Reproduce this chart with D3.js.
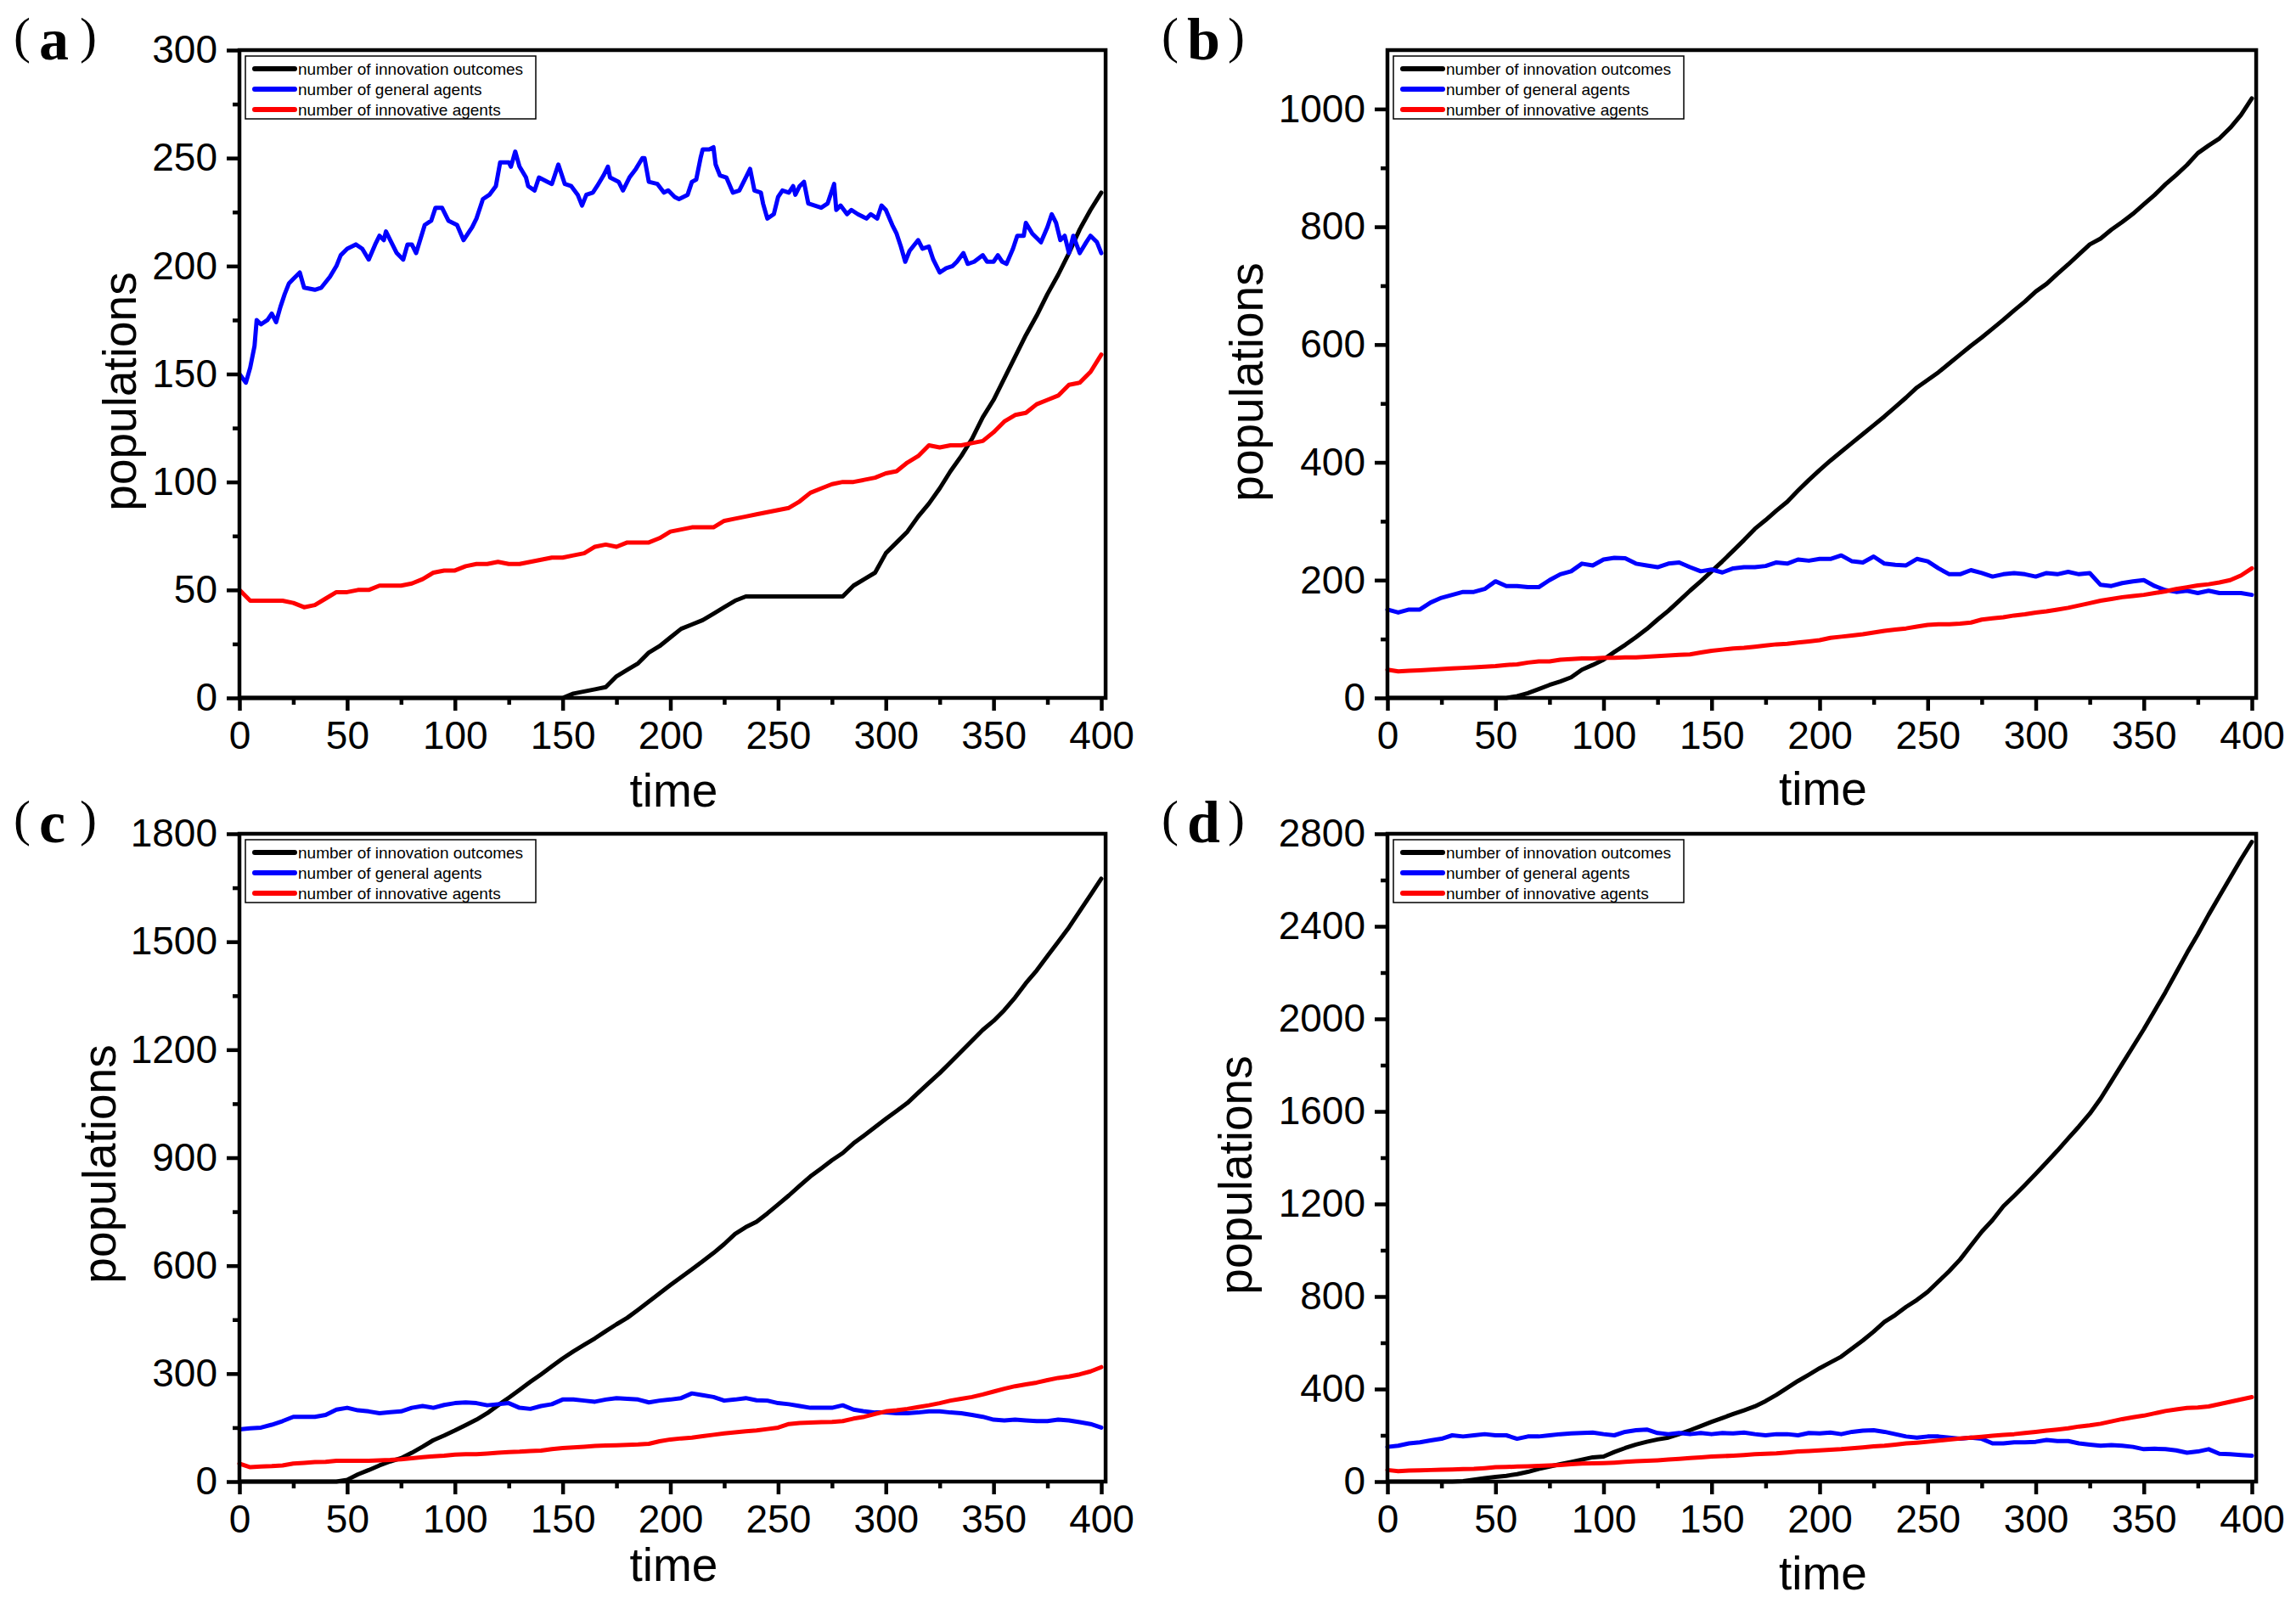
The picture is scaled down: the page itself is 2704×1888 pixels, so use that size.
<!DOCTYPE html>
<html><head><meta charset="utf-8">
<script src="https://cdn.jsdelivr.net/npm/d3@7"></script>
<style>html,body{margin:0;padding:0;background:#fff}</style>
</head><body><svg id="chart" width="2704" height="1888"></svg>
<script>
// ---------- DATA ----------
const time = [0,5,10,15,20,25,30,35,40,45,50,55,60,65,70,75,80,85,90,95,100,105,110,115,120,125,130,135,140,145,150,155,160,165,170,175,180,185,190,195,200,205,210,215,220,225,230,235,240,245,250,255,260,265,270,275,280,285,290,295,300,305,310,315,320,325,330,335,340,345,350,355,360,365,370,375,380,385,390,395,400];

// panel (a)
const outcomesA = [0,0,0,0,0,0,0,0,0,0, 0,0,0,0,0,0,0,0,0,0, 0,0,0,0,0,0,0,0,0,0,
  0,2,3,4,5,10,13,16,21,24, 28,32,34,36,39,42,45,47,47,47, 47,47,47,47,47,47,47,52,55,58,
  67,72,77,84,90,97,105,112,120,130, 138,148,158,168,177,187,196,206,217,226, 234];
// general agents in (a) read at a finer, irregular time step
const generalATime = [0,3,5,7,8,10,13,15,17,19,21,23,25,28,30,35,38,42,45,47,50,54,57,60,63,65,67,68,70,73,76,78,80,82,86,89,91,94,97,101,104,108,110,113,116,119,121,125,126,128,130,133,134,137,139,143,145,148,151,154,157,159,161,164,166,169,171,172,176,178,181,184,187,188,190,194,197,199,202,204,208,210,212,214,215,218,220,221,223,226,229,232,235,237,239,242,243,245,248,250,252,255,257,258,260,262,264,267,270,273,276,277,279,282,284,287,291,293,296,298,300,303,305,307,309,311,315,317,320,322,325,328,331,333,336,338,341,345,347,350,352,354,356,359,361,364,365,368,370,372,375,377,379,381,383,385,387,390,393,395,398,400];
const generalA = [150,146,153,163,175,173,175,178,174,181,187,192,194,197,190,189,190,195,200,205,208,210,208,203,210,214,212,216,212,206,203,210,210,206,219,221,227,227,221,219,212,218,222,231,233,237,248,248,246,253,246,241,237,235,241,239,238,247,238,237,233,228,233,234,237,242,246,241,239,235,241,245,250,250,239,238,234,235,232,231,233,239,240,250,254,254,255,247,242,241,234,235,241,245,235,234,229,222,224,232,235,234,237,233,237,239,229,228,227,229,238,226,228,224,226,224,222,224,222,228,226,219,215,209,202,207,212,208,209,203,197,199,200,202,206,201,202,205,202,202,205,202,201,208,214,214,220,215,213,211,218,224,220,212,214,206,214,206,211,214,211,206];
const innovativeA = [50,45,45,45,45,44,42,43,46,49, 49,50,50,52,52,52,53,55,58,59,
  59,61,62,62,63,62,62,63,64,65, 65,66,67,70,71,70,72,72,72,74,
  77,78,79,79,79,82,83,84,85,86, 87,88,91,95,97,99,100,100,101,102,
  104,105,109,112,117,116,117,117,118,119, 123,128,131,132,136,138,140,145,146,151, 159];

// panel (b)
const outcomesB = [0,0,0,0,0,0,0,0,0,0, 0,0,3,8,15,22,28,35,48,56,
  65,78,90,103,117,133,148,165,182,198, 215,232,250,268,287,302,318,333,352,370,
  387,403,418,433,448,463,478,494,510,527, 540,553,568,583,598,612,627,642,658,673,
  690,703,720,736,753,770,780,795,808,822, 838,854,872,888,905,925,938,950,968,990, 1018];
const generalB = [150,145,150,150,162,170,175,180,180,185, 198,190,190,188,188,200,210,215,228,225,
  235,238,237,228,225,222,228,230,222,215, 218,213,220,222,222,224,230,228,235,233,
  236,236,242,232,230,240,228,226,225,236, 232,220,210,210,217,212,206,210,212,210,
  206,212,210,214,210,212,192,190,195,198, 200,190,183,180,182,178,182,178,178,178, 175];
const innovativeB = [48,45,46,47,48,49,50,51,52,53, 54,56,57,60,62,62,65,66,67,67,
  68,68,69,69,70,71,72,73,74,77, 80,82,84,85,87,89,91,92,94,96,
  98,102,104,106,108,111,114,116,118,121, 124,125,125,126,128,133,135,137,140,142,
  145,147,150,153,157,161,165,168,171,173, 175,178,181,185,188,191,193,196,200,208, 220];

// panel (c)
const outcomesC = [0,0,0,0,0,0,0,0,0,0, 5,20,32,45,56,65,80,97,115,128,
  142,157,172,190,212,233,255,277,298,320, 342,362,380,398,418,437,455,477,500,523,
  546,568,590,612,635,660,688,707,722,745, 770,795,822,848,870,893,913,940,962,985,
  1008,1030,1052,1080,1108,1135,1165,1195,1225,1255, 1280,1310,1345,1385,1420,1460,1500,1540,1585,1630, 1675];
const generalC = [145,148,150,158,168,180,180,180,185,200, 205,198,195,190,193,195,205,210,205,213,
  218,220,218,212,215,218,205,202,210,215, 228,228,225,222,228,232,230,228,220,225,
  228,232,245,240,235,225,228,232,226,225, 218,215,210,205,205,205,212,200,195,192,
  192,190,190,192,195,195,192,190,185,180, 172,170,172,170,168,168,172,170,165,160, 150];
const innovativeC = [50,40,42,43,45,50,52,54,55,58, 58,58,58,59,60,62,65,68,70,72,
  75,76,76,78,80,82,83,85,86,90, 93,95,97,99,100,101,102,103,105,112,
  117,120,122,126,130,134,137,140,142,146, 150,160,163,164,165,166,168,175,180,188,
  195,198,202,207,212,218,225,230,235,242, 250,258,265,270,275,282,288,292,298,306, 318];

// panel (d)
const outcomesD = [0,0,0,0,0,0,0,2,8,15, 20,25,32,42,55,65,75,85,95,105,
  108,128,145,160,172,182,190,205,222,240, 258,275,292,308,325,348,375,405,435,462,
  490,515,540,575,610,648,690,720,755,785, 820,865,910,960,1020,1080,1130,1190,1235,1282,
  1330,1380,1430,1483,1535,1590,1655,1730,1805,1880, 1955,2035,2115,2200,2285,2365,2450,2530,2610,2690, 2765];
const generalD = [150,155,165,170,178,185,200,195,200,205, 200,200,185,195,195,200,205,208,210,212,
  205,200,215,222,225,210,205,210,205,210, 205,210,208,212,205,200,205,205,200,210,
  208,212,205,215,220,222,215,205,195,190, 195,195,190,185,190,185,165,165,170,170,
  172,180,175,175,165,160,155,158,155,150, 140,142,140,135,125,130,140,120,118,115, 112];
const innovativeD = [50,45,48,49,50,51,52,54,55,58, 62,63,65,66,68,70,72,75,78,79,
  80,82,85,88,90,92,95,98,102,105, 108,110,112,115,118,120,122,126,130,132,
  135,138,140,144,148,152,155,160,165,168, 172,177,182,186,190,194,198,202,205,210,
  215,220,225,230,238,243,250,260,270,278, 285,295,305,312,318,320,325,335,345,355, 365];

const seriesNames = ["number of innovation outcomes", "number of general agents", "number of innovative agents"];
const seriesColors = ["#000000", "#0000ff", "#ff0000"];
const panelLetters = ["a", "b", "c", "d"];
const yMaxes = [300, 1100, 1800, 2800];
const yMajorTicks = [
  [0,50,100,150,200,250,300],
  [0,200,400,600,800,1000],
  [0,300,600,900,1200,1500,1800],
  [0,400,800,1200,1600,2000,2400,2800]];
const yMinorTicks = [
  [25,75,125,175,225,275],
  [100,300,500,700,900],
  [150,450,750,1050,1350,1650],
  [200,600,1000,1400,1800,2200,2600]];
const xMajorTicks = [0,50,100,150,200,250,300,350,400];
const xMinorTicks = [25,75,125,175,225,275,325,375];
const xTitle = "time", yTitle = "populations";

// ---------- LAYOUT ----------
const layout = [
  {x0:282,  x400:1297, top:59,  bottom:822,  titleY:950,  popX:160,  popY:461,  lab:{x:16,   y:70}},
  {x0:1634, x400:2652, top:59,  bottom:822,  titleY:948,  popX:1487, popY:450,  lab:{x:1368, y:70}},
  {x0:282,  x400:1297, top:982, bottom:1745, titleY:1862, popX:136,  popY:1371, lab:{x:16,   y:992}},
  {x0:1634, x400:2652, top:982, bottom:1745, titleY:1872, popX:1474, popY:1384, lab:{x:1368, y:992}}
];
const seriesData = [
  [[time, outcomesA], [generalATime, generalA], [time, innovativeA]],
  [[time, outcomesB], [time, generalB], [time, innovativeB]],
  [[time, outcomesC], [time, generalC], [time, innovativeC]],
  [[time, outcomesD], [time, generalD], [time, innovativeD]]];

const svg = d3.select("#chart");
svg.append("rect").attr("width",2704).attr("height",1888).attr("fill","#fff");
const FONT = "'Liberation Sans', Arial, sans-serif";

layout.forEach((L, i) => {
  const pxPerUnit = (L.x400 - L.x0) / 400;
  const xMaxDom = 402;
  const x = d3.scaleLinear().domain([0, xMaxDom]).range([L.x0, L.x0 + xMaxDom * pxPerUnit]);
  const y = d3.scaleLinear().domain([0, yMaxes[i]]).range([L.bottom, L.top]);
  const g = svg.append("g");

  // data lines
  seriesData[i].forEach(([ts, vals], s) => {
    const line = d3.line().x((d, k) => x(ts[k])).y(d => y(d)).curve(d3.curveLinear);
    g.append("path").datum(vals).attr("d", line)
      .attr("fill", "none").attr("stroke", seriesColors[s])
      .attr("stroke-width", 5).attr("stroke-linejoin", "round").attr("stroke-linecap", "round");
  });

  // frame
  g.append("rect").attr("x", x(0)).attr("y", y(yMaxes[i]))
    .attr("width", x(xMaxDom) - x(0)).attr("height", y(0) - y(yMaxes[i]))
    .attr("fill", "none").attr("stroke", "#000").attr("stroke-width", 4.5);

  // axes
  const yAx = g.append("g").attr("transform", `translate(${x(0)},0)`)
    .call(d3.axisLeft(y).tickValues(yMajorTicks[i]).tickSize(15).tickSizeOuter(0).tickPadding(11).tickFormat(d3.format("d")));
  const yAxMin = g.append("g").attr("transform", `translate(${x(0)},0)`)
    .call(d3.axisLeft(y).tickValues(yMinorTicks[i]).tickSize(8).tickSizeOuter(0).tickFormat(""));
  const xAx = g.append("g").attr("transform", `translate(0,${y(0)})`)
    .call(d3.axisBottom(x).tickValues(xMajorTicks).tickSize(15).tickSizeOuter(0).tickPadding(12).tickFormat(d3.format("d")));
  const xAxMin = g.append("g").attr("transform", `translate(0,${y(0)})`)
    .call(d3.axisBottom(x).tickValues(xMinorTicks).tickSize(8).tickSizeOuter(0).tickFormat(""));
  [yAx, yAxMin, xAx, xAxMin].forEach(a => {
    a.select(".domain").remove();
    a.selectAll(".tick line").attr("stroke", "#000").attr("stroke-width", 4.5);
    a.selectAll(".tick text").attr("font-family", FONT).attr("font-size", 46).attr("fill", "#000");
  });

  // axis titles
  g.append("text").attr("x", (L.x0 + L.x400) / 2 + 4).attr("y", L.titleY)
    .attr("text-anchor", "middle").attr("font-family", FONT).attr("font-size", 55).text(xTitle);
  g.append("text").attr("transform", `translate(${L.popX},${L.popY}) rotate(-90)`)
    .attr("text-anchor", "middle").attr("font-family", FONT).attr("font-size", 55).text(yTitle);

  // panel label
  const lab = g.append("text").attr("font-family", "'Liberation Serif', 'Times New Roman', serif").attr("fill", "#000");
  lab.append("tspan").attr("x", L.lab.x).attr("y", L.lab.y - 8).attr("font-size", 60).text("(");
  lab.append("tspan").attr("x", L.lab.x + 30).attr("y", L.lab.y).attr("font-size", 70).attr("font-weight", "bold").text(panelLetters[i]);
  lab.append("tspan").attr("x", L.lab.x + 78).attr("y", L.lab.y - 8).attr("font-size", 60).text(")");

  // legend
  const lx = x(0) + 7, ly = y(yMaxes[i]) + 7;
  const leg = g.append("g");
  leg.append("rect").attr("x", lx).attr("y", ly).attr("width", 342).attr("height", 74)
    .attr("fill", "#fff").attr("stroke", "#000").attr("stroke-width", 1.5);
  seriesNames.forEach((nm, s) => {
    const ry = ly + 15 + s * 24;
    leg.append("line").attr("x1", lx + 11).attr("x2", lx + 58).attr("y1", ry).attr("y2", ry)
      .attr("stroke", seriesColors[s]).attr("stroke-width", 6).attr("stroke-linecap", "round");
    leg.append("text").attr("x", lx + 62).attr("y", ry + 7).attr("font-family", FONT)
      .attr("font-size", 19).attr("fill", "#000").text(nm);
  });
});
</script></body></html>
